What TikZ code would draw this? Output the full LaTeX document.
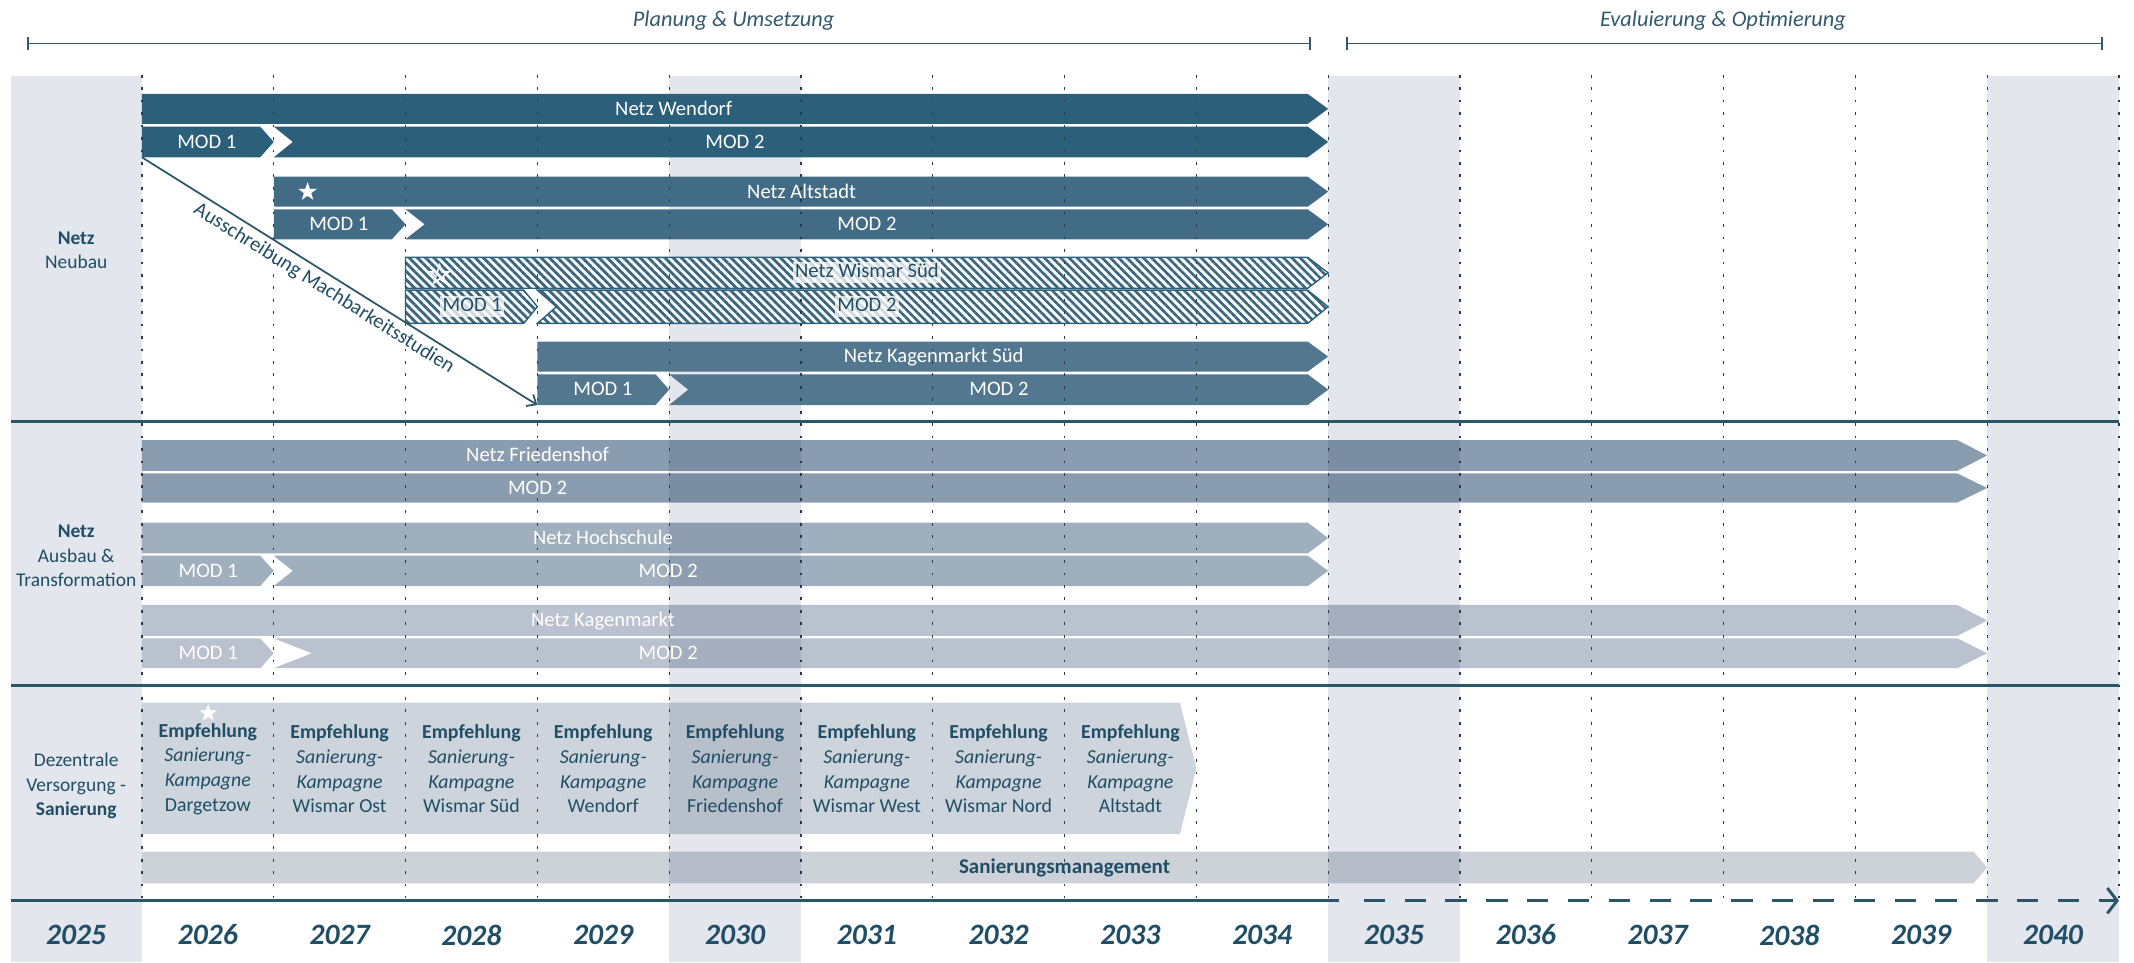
\documentclass[tikz,border=0pt]{standalone}
\usepackage{fontspec}
\setmainfont{Carlito}
\usetikzlibrary{arrows.meta,positioning,shapes.geometric,patterns.meta}

\definecolor{tealdark}{HTML}{1F4E66}
\definecolor{phase}{HTML}{33596E}
\definecolor{secline}{HTML}{2B5668}
\definecolor{gridc}{HTML}{2B3A46}
\definecolor{band}{HTML}{E3E6EC}
\definecolor{wendorf}{HTML}{2C5F79}
\definecolor{altstadt}{HTML}{426C86}
\definecolor{kagsued}{HTML}{52778F}
\definecolor{hatchc}{HTML}{3B6680}
\definecolor{friedens}{HTML}{8A9DB0}
\definecolor{hochsch}{HTML}{A0AFBE}
\definecolor{kagen}{HTML}{B9C2CE}
\definecolor{empf}{HTML}{CED4DB}
\definecolor{sanman}{HTML}{CDD2D9}

% bar with an arrow tip on the right end
\newcommand{\tipbar}[6]{%
	\path[#1] ({#2},{#4}) -- ({#3-#6},{#4}) -- ({#3},{(#4+#5)/2})
		-- ({#3-#6},{#5}) -- ({#2},{#5}) -- cycle;}
% same, with a notch on the left end
\newcommand{\notchbar}[7]{%
	\path[#1] ({#2},{#4}) -- ({#3-#6},{#4}) -- ({#3},{(#4+#5)/2})
		-- ({#3-#6},{#5}) -- ({#2},{#5}) -- ({#2+#7},{(#4+#5)/2}) -- cycle;}

\begin{document}
\begin{tikzpicture}[
			x=0.7pt, y=-0.7pt,
			declare function={yr(\k)=104.3+96.84*\k;},
			every node/.style={inner sep=0pt, font=\fontsize{10.6}{12.6}\selectfont},
			bartext/.style={text=white, text height=0.64em, text depth=0pt},
			hatchtext/.style={text=tealdark, fill=white, fill opacity=0.75, text opacity=1,
				inner sep=1.2pt, text height=0.64em, text depth=0.2em},
			hatchbar/.style={preaction={fill=white},
				pattern={Lines[angle=-45,distance=3pt,line width=1.4pt]},
				pattern color=hatchc, draw=wendorf, line width=0.7pt},
			sidetext/.style={align=center, text=tealdark, font=\fontsize{10}{12.5}\selectfont},
			emptext/.style={align=center, text=tealdark, font=\fontsize{10.2}{12.7}\selectfont},
			yeartext/.style={text=tealdark, font=\fontsize{15.2}{16}\selectfont\bfseries\itshape},
			phasetext/.style={text=phase, font=\fontsize{11.5}{13}\selectfont\itshape},
			gridline/.style={gridc, line width=0.6pt, dash pattern=on 1.4pt off 5pt},
			sectionline/.style={secline, line width=1.5pt},
			phaseline/.style={phase, line width=0.9pt, {Bar[width=7pt]}-{Bar[width=7pt]}},
			diagline/.style={secline, line width=0.9pt, -{Straight Barb[length=4pt,width=7pt]}},
			staricon/.style={star, star points=5, star point ratio=2.5, fill=white, minimum size=10pt}
			]
			
			\useasboundingbox (0,0) rectangle (1568,707);
			
			% Grey year bands: 2025, 2030, 2035, 2040
			\fill[band] (8,56) rectangle ({yr(0)},707);
			\fill[band] ({yr(4)},56) rectangle ({yr(5)},707);
			\fill[band] ({yr(9)},56) rectangle ({yr(10)},707);
			\fill[band] ({yr(14)},56) rectangle ({yr(15)},707);
			
			% Phases
			\coordinate (planL) at (20,32);
			\coordinate (planR) at (963,32);
			\coordinate (evalL) at (989,32);
			\coordinate (evalR) at (1545,32);
			\draw[phaseline] (planL) -- (planR);
			\draw[phaseline] (evalL) -- (evalR);
			\node[phasetext] (plan) at (539,15) {Planung \& Umsetzung};
			\node[phasetext] (eval) at (1266,15) {Evaluierung \& Optimierung};
			
			% Netz Wendorf
			\tipbar{fill=wendorf}{yr(0)}{yr(9)}{69}{91}{15}
			\tipbar{fill=wendorf}{yr(0)}{yr(1)}{93}{115.6}{10}
			\notchbar{fill=wendorf}{yr(1)}{yr(9)}{93}{115.6}{15}{14}
			% Netz Altstadt
			\tipbar{fill=altstadt}{yr(1)}{yr(9)}{129.8}{151.9}{15}
			\tipbar{fill=altstadt}{yr(1)}{yr(2)}{153.8}{175.8}{10}
			\notchbar{fill=altstadt}{yr(2)}{yr(9)}{153.8}{175.8}{15}{14}
			% Netz Kagenmarkt Sued
			\tipbar{fill=kagsued}{yr(3)}{yr(9)}{251}{273}{15}
			\tipbar{fill=kagsued}{yr(3)}{yr(4)}{275}{297.6}{10}
			\notchbar{fill=kagsued}{yr(4)}{yr(9)}{275}{297.6}{15}{14}
			% Netz Wismar Sued (hatched)
			\tipbar{hatchbar}{yr(2)}{yr(9)}{189.1}{211.8}{15}
			\tipbar{hatchbar}{yr(2)}{yr(3)}{213.2}{237.6}{10}
			\notchbar{hatchbar}{yr(3)}{yr(9)}{213.2}{237.6}{15}{14}
			
			% Lighter bars, darker over the grey bands
			\begin{scope}[blend mode=multiply]
				% Netz Friedenshof
				\tipbar{fill=friedens}{yr(0)}{yr(14)}{323.3}{346}{22}
				\tipbar{fill=friedens}{yr(0)}{yr(14)}{347.8}{369.3}{22}
				% Netz Hochschule
				\tipbar{fill=hochsch}{yr(0)}{yr(9)}{384}{406.6}{15}
				\tipbar{fill=hochsch}{yr(0)}{yr(1)}{408.3}{430.6}{10}
				\notchbar{fill=hochsch}{yr(1)}{yr(9)}{408.3}{430.6}{15}{14}
				% Netz Kagenmarkt
				\tipbar{fill=kagen}{yr(0)}{yr(14)}{444.5}{467.3}{22}
				\tipbar{fill=kagen}{yr(0)}{yr(1)}{469}{491}{10}
				\notchbar{fill=kagen}{yr(1)}{yr(14)}{469}{491}{22}{28}
				% Sanierung
				\tipbar{fill=empf}{yr(0)}{yr(8)}{516.3}{612.8}{12}
				\tipbar{fill=sanman}{yr(0)}{yr(14)}{625.8}{649}{10}
			\end{scope}
			
			% Year grid
			\foreach \k in {0,...,15}
				\draw[gridline] ({yr(\k)},55) -- ({yr(\k)},660);
			
			% Section lines and time axis
			\draw[sectionline] (8,309.5) -- ({yr(15)},309.5);
			\draw[sectionline] (8,503.5) -- ({yr(15)},503.5);
			\draw[sectionline] (8,661.8) -- (984,661.8);
			\draw[sectionline, dash pattern=on 11pt off 10pt,
				-{Straight Barb[length=5pt,width=13pt]}] (1002,661.8) -- ({yr(15)},661.8);
			
			% Ausschreibung
			\coordinate (ausStart) at ({yr(0)},115.6);
			\coordinate (ausEnd) at ({yr(3)},297.6);
			\draw[diagline] (ausStart) -- node[sloped, below=2.5pt, pos=0.48, text=tealdark] (ausText)
				{Ausschreibung Machbarkeitsstudien} (ausEnd);
			
			% Labels: Netz Neubau
			\node[bartext] (tWen) at (495,80) {Netz Wendorf};
			\node[bartext] (mWen1) at (152,104.3) {MOD 1};
			\node[bartext] (mWen2) at (540,104.3) {MOD 2};
			\node[bartext] (tAlt) at (589,141) {Netz Altstadt};
			\node[bartext] (mAlt1) at (249,164.8) {MOD 1};
			\node[bartext] (mAlt2) at (637,164.8) {MOD 2};
			\node[hatchtext] (tWis) at (637,200.5) {Netz Wismar Süd};
			\node[hatchtext] (mWis1) at (347,225.4) {MOD 1};
			\node[hatchtext] (mWis2) at (637,225.4) {MOD 2};
			\node[bartext] (tKas) at (686,262) {Netz Kagenmarkt Süd};
			\node[bartext] (mKas1) at (443,286.3) {MOD 1};
			\node[bartext] (mKas2) at (734,286.3) {MOD 2};
			
			% Labels: Netz Ausbau & Transformation
			\node[bartext] (tFri) at (395,334.6) {Netz Friedenshof};
			\node[bartext] (mFri2) at (395,358.5) {MOD 2};
			\node[bartext] (tHoc) at (443,395.3) {Netz Hochschule};
			\node[bartext] (mHoc1) at (153,419.5) {MOD 1};
			\node[bartext] (mHoc2) at (491,419.5) {MOD 2};
			\node[bartext] (tKag) at (443,455.9) {Netz Kagenmarkt};
			\node[bartext] (mKag1) at (153,480) {MOD 1};
			\node[bartext] (mKag2) at (491,480) {MOD 2};
			
			% Stars
			\node[staricon] (starAlt) at (226,141) {};
			\node[staricon, fill=none, draw=white, line width=0.8pt] (starWis) at (323,202) {};
			\node[staricon, minimum size=9.5pt] (starEmp) at (153,524) {};
			
			% Labels: Dezentrale Versorgung - Sanierung
			\node[emptext] (emp1) at ({yr(0)+48.4},565) {\textbf{Empfehlung}\\\textit{Sanierung-}\\\textit{Kampagne}\\Dargetzow};
			\node[emptext] (emp2) at ({yr(1)+48.4},565) {\textbf{Empfehlung}\\\textit{Sanierung-}\\\textit{Kampagne}\\Wismar Ost};
			\node[emptext] (emp3) at ({yr(2)+48.4},565) {\textbf{Empfehlung}\\\textit{Sanierung-}\\\textit{Kampagne}\\Wismar Süd};
			\node[emptext] (emp4) at ({yr(3)+48.4},565) {\textbf{Empfehlung}\\\textit{Sanierung-}\\\textit{Kampagne}\\Wendorf};
			\node[emptext] (emp5) at ({yr(4)+48.4},565) {\textbf{Empfehlung}\\\textit{Sanierung-}\\\textit{Kampagne}\\Friedenshof};
			\node[emptext] (emp6) at ({yr(5)+48.4},565) {\textbf{Empfehlung}\\\textit{Sanierung-}\\\textit{Kampagne}\\Wismar West};
			\node[emptext] (emp7) at ({yr(6)+48.4},565) {\textbf{Empfehlung}\\\textit{Sanierung-}\\\textit{Kampagne}\\Wismar Nord};
			\node[emptext] (emp8) at ({yr(7)+48.4},565) {\textbf{Empfehlung}\\\textit{Sanierung-}\\\textit{Kampagne}\\Altstadt};
			\node[text=tealdark, font=\fontsize{10.8}{12}\selectfont\bfseries] (sanText) at ({yr(7)},637.4) {Sanierungsmanagement};
			
			% Row headers
			\node[sidetext] (hNeu) at (56,184) {\textbf{Netz}\\Neubau};
			\node[sidetext] (hAus) at (56,408.4) {\textbf{Netz}\\Ausbau \&\\Transformation};
			\node[sidetext] (hDez) at (56,577.5) {Dezentrale\\Versorgung -\\\textbf{Sanierung}};
			
			% Years
			\foreach \k [evaluate=\k as \jahr using int(2026+\k)] in {-1,...,14}
				\node[yeartext] (y\jahr) at ({yr(\k)+48.4},687) {\jahr};
			
		\end{tikzpicture}
\end{document}
